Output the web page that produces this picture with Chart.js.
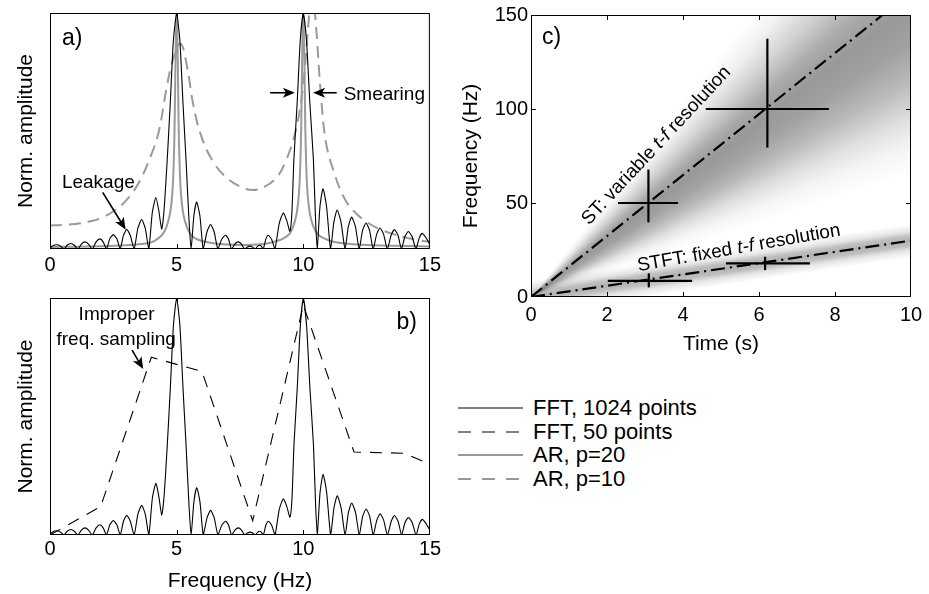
<!DOCTYPE html>
<html>
<head>
<meta charset="utf-8">
<script src="https://cdn.jsdelivr.net/npm/chart.js@4.4.0/dist/chart.umd.min.js"></script>
<style>
  body { margin: 0; background: #fff; width: 929px; height: 594px; position: relative; overflow: hidden;
         font-family: "Liberation Sans", Arial, sans-serif; }
  canvas { position: absolute; }
  #cA { left: 0; top: 0; }
  #cB { left: 0; top: 280px; }
  #cC { left: 450px; top: 0; }
  .lg { position: absolute; left: 458px; height: 24px; line-height: 24px; white-space: nowrap; font-size: 22px; color: #000; }
  .lg svg { position: absolute; left: 0; top: 0; }
  .lg span { position: absolute; left: 75px; top: 0; }
</style>
</head>
<body>
<canvas id="cA" width="445" height="280"></canvas>
<canvas id="cB" width="445" height="314"></canvas>
<canvas id="cC" width="479" height="360"></canvas>
<div id="legend"></div>
<script>
// ---- spectra (panels a, b) ----
const fftFreq = [
  0, 0.08, 0.26, 0.42, 0.55,  0.68, 0.82, 0.96, 1.10,  1.24, 1.38, 1.52, 1.67,  1.82, 1.97, 2.10, 2.23,
  2.36, 2.50, 2.64, 2.77,  2.90, 3.03, 3.17, 3.32,  3.47, 3.62, 3.76, 3.90,  4.04, 4.18, 4.30, 4.41,
  4.50, 4.63, 4.75, 4.87, 5.00, 5.13, 5.25, 5.37, 5.48, 5.57,
  5.68, 5.79, 5.92, 6.05,  6.20, 6.34, 6.48, 6.63,  6.78, 6.93, 7.05, 7.17,  7.30, 7.43, 7.56, 7.68,
  7.79, 7.90, 8.00, 8.10,  8.19, 8.28, 8.35, 8.42,  8.52, 8.62, 8.75, 8.88,  9.05, 9.21, 9.35, 9.47,
  9.55, 9.63, 9.76, 9.88, 10.00, 10.13, 10.26, 10.40, 10.48, 10.55,
  10.66, 10.78, 10.92, 11.08,  11.21, 11.34, 11.49, 11.65,  11.78, 11.91, 12.06, 12.21,  12.34, 12.48, 12.62, 12.76,
  12.90, 13.03, 13.17, 13.32,  13.47, 13.60, 13.74, 13.88,  14.01, 14.15, 14.30, 14.45,  14.58, 14.70, 14.85, 15.00
];
const fftAmp = [
  0.004, 0.012, 0.018, 0.012, 0,  0.016, 0.023, 0.016, 0,  0.021, 0.030, 0.021, 0,  0.030, 0.043, 0.030, 0,
  0.043, 0.061, 0.043, 0,  0.058, 0.083, 0.058, 0,  0.088, 0.125, 0.088, 0,  0.155, 0.218, 0.16, 0.083,
  0.16, 0.38, 0.62, 0.88, 1.0, 0.88, 0.62, 0.38, 0.14, 0,
  0.14, 0.20, 0.14, 0,  0.073, 0.104, 0.073, 0,  0.041, 0.058, 0.041, 0,  0.021, 0.030, 0.021, 0,
  0.008, 0.012, 0.008, 0,  0.011, 0.016, 0.011, 0,  0.041, 0.058, 0.041, 0,  0.108, 0.153, 0.12, 0.075,
  0.15, 0.38, 0.62, 0.88, 1.0, 0.88, 0.62, 0.38, 0.14, 0,
  0.18, 0.256, 0.18, 0,  0.115, 0.165, 0.115, 0,  0.095, 0.135, 0.095, 0,  0.078, 0.11, 0.078, 0,
  0.063, 0.089, 0.063, 0,  0.058, 0.082, 0.058, 0,  0.052, 0.074, 0.052, 0,  0.047, 0.066, 0.047, 0.02
];
const ar20Freq = [0, 1, 2, 3, 3.6, 4.0, 4.3, 4.47, 4.60, 4.72, 4.80, 4.85, 4.89, 4.92, 4.95, 4.975, 5.0,
  5.025, 5.05, 5.08, 5.11, 5.15, 5.2, 5.28, 5.4, 5.53, 5.7, 6.0, 6.45, 7.0, 7.76, 8.5, 9.08, 9.3, 9.47,
  9.6, 9.72, 9.8, 9.85, 9.89, 9.92, 9.95, 9.975, 10.0, 10.025, 10.05, 10.08, 10.11, 10.15, 10.2, 10.28,
  10.4, 10.55, 10.72, 11.18, 12.0, 12.5, 13.5, 15];
const ar20Amp = [0.009, 0.01, 0.012, 0.016, 0.021, 0.028, 0.047, 0.066, 0.095, 0.14, 0.2, 0.27, 0.38, 0.52, 0.76, 0.92, 1.0,
  0.92, 0.76, 0.52, 0.38, 0.27, 0.2, 0.14, 0.095, 0.066, 0.047, 0.034, 0.024, 0.019, 0.017, 0.022, 0.038, 0.05, 0.066,
  0.095, 0.14, 0.2, 0.27, 0.38, 0.52, 0.76, 0.92, 1.0, 0.92, 0.76, 0.52, 0.38, 0.27, 0.2, 0.14,
  0.095, 0.066, 0.05, 0.031, 0.02, 0.017, 0.014, 0.011];
const ar10Freq = [0, 0.5, 1, 1.5, 2, 2.5, 3, 3.5, 4, 4.3, 4.6, 4.85, 5.15, 5.4, 5.66, 6.0, 6.5, 7.0, 7.5, 8.0,
  8.5, 9.0, 9.3, 9.6, 9.85, 10.05, 10.2, 10.35, 10.5, 10.7, 10.9, 11.2, 11.6, 12.0, 12.5, 13.0, 13.5, 14.0, 14.5, 15];
const ar10Amp = [0.1, 0.102, 0.106, 0.115, 0.13, 0.16, 0.205, 0.28, 0.4, 0.5, 0.68, 0.8, 0.87, 0.78, 0.61, 0.47, 0.36, 0.3, 0.265, 0.25,
  0.265, 0.31, 0.37, 0.46, 0.58, 0.75, 0.95, 1.1, 0.95, 0.65, 0.45, 0.33, 0.22, 0.16, 0.115, 0.085, 0.065, 0.05, 0.038, 0.03];
const fft50Freq = [0, 2, 4, 6, 8, 10, 12, 14, 16];
const fft50Amp = [0, 0.12, 0.75, 0.69, 0.06, 0.97, 0.35, 0.345, 0.25];
const freqTicks = [0, 5, 10, 15];

// ---- time-frequency sketch (panel c) ----
const stTime = [0, 9.25], stFreq = [0, 150];
const stftTime = [0, 10], stftFreq = [0, 30];
const crossTc = [3.09, 6.22, 3.1, 6.16];
const crossFc = [50, 100, 8.6, 17.9];
const crossT0 = [2.29, 4.6, 2.02, 5.13], crossT1 = [3.87, 7.84, 4.24, 7.34];
const crossF0 = [39.7, 79.5, 5.1, 14.3], crossF1 = [67.8, 137.4, 12.6, 21.4];
const timeTicks = [0, 2, 4, 6, 8, 10];
const tfFreqTicks = [0, 50, 100, 150];

const legendLabels = ['FFT, 1024 points', 'FFT, 50 points', 'AR, p=20', 'AR, p=10'];

const FAM = '"Liberation Sans", Arial, sans-serif';
const GRAY = '#9a9a9a';
Chart.defaults.font.family = FAM;
Chart.defaults.color = '#000';
Chart.defaults.animation = false;

const xy = (xs, ys) => xs.map((v, i) => ({ x: v, y: ys[i] }));

function drawParts(ctx, parts, cx, cy, angle, size, base) {
  const fonts = parts.map(p => (p.it ? 'italic ' : '') + size + 'px ' + FAM);
  let w = 0;
  const ws = parts.map((p, i) => { ctx.font = fonts[i]; const m = ctx.measureText(p.t).width; w += m; return m; });
  ctx.save();
  ctx.translate(cx, cy);
  ctx.rotate(angle * Math.PI / 180);
  ctx.textBaseline = base || 'middle';
  ctx.textAlign = 'left';
  let xx = -w / 2;
  parts.forEach((p, i) => { ctx.font = fonts[i]; ctx.fillText(p.t, xx, 0); xx += ws[i]; });
  ctx.restore();
}

function arrow(ctx, x1, y1, x2, y2) {
  const c = Math.cos(Math.atan2(y2 - y1, x2 - x1)), s = Math.sin(Math.atan2(y2 - y1, x2 - x1));
  const hl = 12, hw = 5;
  ctx.lineWidth = 1.6;
  ctx.beginPath();
  ctx.moveTo(x1, y1);
  ctx.lineTo(x2 - hl * 0.7 * c, y2 - hl * 0.7 * s);
  ctx.stroke();
  ctx.beginPath();
  ctx.moveTo(x2, y2);
  ctx.lineTo(x2 - hl * c + hw * s, y2 - hl * s - hw * c);
  ctx.lineTo(x2 - hl * 0.75 * c, y2 - hl * 0.75 * s);
  ctx.lineTo(x2 - hl * c - hw * s, y2 - hl * s + hw * c);
  ctx.closePath();
  ctx.fill();
}

// box + inward tick marks, matlab style
const frame = {
  id: 'frame',
  afterDatasetsDraw(chart, args, o) {
    const { ctx, chartArea: a, scales: { x, y } } = chart;
    ctx.save();
    ctx.strokeStyle = '#000';
    ctx.lineWidth = 1;
    ctx.strokeRect(a.left + 0.5, a.top + 0.5, a.width - 1, a.height - 1);
    const tl = 5;
    ctx.beginPath();
    x.ticks.forEach(t => {
      if (t.value <= x.min || t.value >= x.max) return;
      const p = Math.round(x.getPixelForValue(t.value)) + 0.5;
      ctx.moveTo(p, a.bottom); ctx.lineTo(p, a.bottom - tl);
      ctx.moveTo(p, a.top); ctx.lineTo(p, a.top + tl);
    });
    if (o.yTicks) {
      y.ticks.forEach(t => {
        if (t.value <= y.min || t.value >= y.max) return;
        const p = Math.round(y.getPixelForValue(t.value)) + 0.5;
        ctx.moveTo(a.left, p); ctx.lineTo(a.left + tl, p);
        ctx.moveTo(a.right, p); ctx.lineTo(a.right - tl, p);
      });
    }
    ctx.stroke();
    ctx.restore();
  }
};

// panel letters, labels and arrows
const notes = {
  id: 'notes',
  afterDraw(chart, args, o) {
    const { ctx, chartArea: a, scales: { x, y } } = chart;
    ctx.save();
    ctx.fillStyle = '#000';
    ctx.strokeStyle = '#000';
    if (o.label) {
      ctx.font = '23px ' + FAM;
      ctx.textBaseline = 'middle';
      ctx.textAlign = o.label.align;
      const lx = o.label.align === 'left' ? a.left + o.label.dx : a.right - o.label.dx;
      ctx.fillText(o.label.text, lx, a.top + o.label.dy);
    }
    (o.texts || []).forEach(t => {
      drawParts(ctx, t.parts, x.getPixelForValue(t.x), y.getPixelForValue(t.y), t.angle || 0, 19, t.base);
    });
    (o.arrows || []).forEach(r => {
      arrow(ctx, x.getPixelForValue(r[0]), y.getPixelForValue(r[1]), x.getPixelForValue(r[2]), y.getPixelForValue(r[3]));
    });
    ctx.restore();
  }
};

// grey resolution shading behind the t-f lines
const shade = {
  id: 'shade',
  beforeDatasetsDraw(chart) {
    const { ctx, chartArea: a, scales: { x, y } } = chart;
    const x0 = x.getPixelForValue(0), y0 = y.getPixelForValue(0);
    ctx.save();
    ctx.beginPath();
    ctx.rect(a.left, a.top, a.width, a.height);
    ctx.clip();
    // ST: cone, width grows with frequency
    const stSlope = [26, 23, 20, 17.5, 15.5, 13.5, 11.5, 9.5, 8, 6.5];
    const stDark = [0, 0.05, 0.18, 0.33, 0.4, 0.37, 0.27, 0.12, 0.04, 0];
    const start = -Math.PI / 2;
    const g = ctx.createConicGradient(start, x0, y0);
    stSlope.forEach((sl, i) => {
      const ang = Math.atan2(y.getPixelForValue(sl) - y0, x.getPixelForValue(1) - x0);
      g.addColorStop((ang - start) / (2 * Math.PI), 'rgba(0,0,0,' + stDark[i] + ')');
    });
    ctx.fillStyle = g;
    ctx.fillRect(a.left, a.top, a.width, a.height);
    // STFT: band of constant width
    const off = [9, 5, 2.5, 0, -2.5, -5, -9];
    const offDark = [0, 0.1, 0.25, 0.3, 0.25, 0.1, 0];
    const ex = x.getPixelForValue(stftTime[1]) - x0, ey = y.getPixelForValue(stftFreq[1]) - y0;
    const len = Math.hypot(ex, ey);
    const nx = -ey / len, ny = ex / len;
    const pxHz = y0 - y.getPixelForValue(1);
    const D = 9 * pxHz * Math.abs(ny);
    const cx = x.getPixelForValue(5), cy = y.getPixelForValue(15);
    const lg = ctx.createLinearGradient(cx - nx * D, cy - ny * D, cx + nx * D, cy + ny * D);
    off.forEach((d, i) => lg.addColorStop((9 - d) / 18, 'rgba(0,0,0,' + offDark[i] + ')'));
    ctx.fillStyle = lg;
    ctx.fillRect(a.left, a.top, a.width, a.height);
    ctx.restore();
  }
};

function specScales(title, tickPad, xh) {
  return {
    x: {
      type: 'linear', min: 0, max: 15,
      afterBuildTicks: s => { s.ticks = freqTicks.map(v => ({ value: v })); },
      ticks: { padding: tickPad, font: { size: 20 }, maxRotation: 0 },
      grid: { display: false, drawTicks: false }, border: { display: false },
      title: { display: !!title, text: title, font: { size: 21 }, padding: 0 },
      afterFit: s => { s.height = xh; }
    },
    y: {
      min: 0, max: 1,
      ticks: { display: false },
      grid: { display: false, drawTicks: false }, border: { display: false },
      title: { display: true, text: 'Norm. amplitude', font: { size: 21 }, padding: { top: 14, bottom: 0 } },
      afterFit: s => { s.width = 50; }
    }
  };
}

const thin = { pointRadius: 0, tension: 0.2, fill: false };

new Chart(document.getElementById('cA'), {
  type: 'line',
  data: {
    datasets: [
      { ...thin, data: xy(fftFreq, fftAmp), borderColor: '#000', borderWidth: 1.1 },
      { ...thin, data: xy(ar20Freq, ar20Amp), borderColor: GRAY, borderWidth: 2, tension: 0.3 },
      { ...thin, data: xy(ar10Freq, ar10Amp), borderColor: GRAY, borderWidth: 2, borderDash: [12, 7], tension: 0.4 }
    ]
  },
  options: {
    responsive: false,
    layout: { padding: { top: 13, right: 15, left: 0, bottom: 0 } },
    scales: specScales('', 4, 31),
    plugins: {
      legend: { display: false }, tooltip: { enabled: false },
      notes: {
        label: { text: 'a)', align: 'left', dx: 12, dy: 26 },
        texts: [
          { parts: [{ t: 'Leakage' }], x: 1.91, y: 0.258, base: 'alphabetic' },
          { parts: [{ t: 'Smearing' }], x: 13.2, y: 0.631, base: 'alphabetic' }
        ],
        arrows: [[2.08, 0.24, 2.99, 0.082], [8.69, 0.662, 9.67, 0.662], [11.32, 0.662, 10.39, 0.662]]
      }
    }
  },
  plugins: [frame, notes]
});

new Chart(document.getElementById('cB'), {
  type: 'line',
  data: {
    datasets: [
      { ...thin, data: xy(fftFreq, fftAmp), borderColor: '#000', borderWidth: 1.1 },
      { ...thin, data: xy(fft50Freq, fft50Amp), borderColor: '#000', borderWidth: 1.1, borderDash: [12, 9], tension: 0 }
    ]
  },
  options: {
    responsive: false,
    layout: { padding: { top: 18, right: 15, left: 0, bottom: 0 } },
    scales: specScales('Frequency (Hz)', 2, 59),
    plugins: {
      legend: { display: false }, tooltip: { enabled: false },
      notes: {
        label: { text: 'b)', align: 'right', dx: 13, dy: 24.5 },
        texts: [
          { parts: [{ t: 'Improper' }], x: 2.63, y: 0.907, base: 'alphabetic' },
          { parts: [{ t: 'freq. sampling' }], x: 2.61, y: 0.80, base: 'alphabetic' }
        ],
        arrows: [[3.24, 0.78, 3.68, 0.70]]
      }
    }
  },
  plugins: [frame, notes]
});

const tfSets = [
  { data: xy(stTime, stFreq) }, { data: xy(stftTime, stftFreq) }
].map(d => ({ ...d, borderColor: '#000', borderWidth: 2.2, borderDash: [14, 5, 2, 5], pointRadius: 0 }));
crossTc.forEach((tc, i) => {
  tfSets.unshift({ data: [{ x: crossT0[i], y: crossFc[i] }, { x: crossT1[i], y: crossFc[i] }], borderColor: '#000', borderWidth: 2.2, pointRadius: 0 });
  tfSets.unshift({ data: [{ x: tc, y: crossF0[i] }, { x: tc, y: crossF1[i] }], borderColor: '#000', borderWidth: 2.2, pointRadius: 0 });
});

new Chart(document.getElementById('cC'), {
  type: 'line',
  data: { datasets: tfSets },
  options: {
    responsive: false,
    layout: { padding: { top: 14, right: 18, left: 0, bottom: 0 } },
    scales: {
      x: {
        type: 'linear', min: 0, max: 10,
        afterBuildTicks: s => { s.ticks = timeTicks.map(v => ({ value: v })); },
        ticks: { padding: 6, font: { size: 20 }, maxRotation: 0 },
        grid: { display: false, drawTicks: false }, border: { display: false },
        title: { display: true, text: 'Time (s)', font: { size: 21 }, padding: { top: 0, bottom: 3 } },
        afterFit: s => { s.height = 63; }
      },
      y: {
        min: 0, max: 150,
        afterBuildTicks: s => { s.ticks = tfFreqTicks.map(v => ({ value: v })); },
        ticks: { padding: 3, font: { size: 20 } },
        grid: { display: false, drawTicks: false }, border: { display: false },
        title: { display: true, text: 'Frequency (Hz)', font: { size: 21 }, padding: { top: 9, bottom: 0 } },
        afterFit: s => { s.width = 81; }
      }
    },
    plugins: {
      legend: { display: false }, tooltip: { enabled: false },
      frame: { yTicks: true },
      notes: {
        label: { text: 'c)', align: 'left', dx: 11, dy: 23 },
        texts: [
          { parts: [{ t: 'ST: variable ' }, { t: 't-f', it: true }, { t: ' resolution' }], x: 3.3, y: 80.5, angle: -47 },
          { parts: [{ t: 'STFT: fixed ' }, { t: 't-f', it: true }, { t: ' resolution' }], x: 5.47, y: 26, angle: -10 }
        ]
      }
    }
  },
  plugins: [shade, frame, notes]
});

// legend (outside the axes, as in the figure)
const legendStyles = [
  { c: '#000', w: 1.2, d: '' }, { c: '#000', w: 1.2, d: '13 11' },
  { c: GRAY, w: 2.2, d: '' }, { c: GRAY, w: 2.2, d: '13 11' }
];
const lg = document.getElementById('legend');
legendLabels.forEach((txt, i) => {
  const st = legendStyles[i];
  const row = document.createElement('div');
  row.className = 'lg';
  row.style.top = (396 + i * 23.7) + 'px';
  row.innerHTML = '<svg width="66" height="24"><line x1="0" y1="12" x2="65" y2="12" stroke="' + st.c +
    '" stroke-width="' + st.w + '"' + (st.d ? ' stroke-dasharray="' + st.d + '"' : '') + '/></svg><span></span>';
  row.querySelector('span').textContent = txt;
  lg.appendChild(row);
});
</script>
</body>
</html>
